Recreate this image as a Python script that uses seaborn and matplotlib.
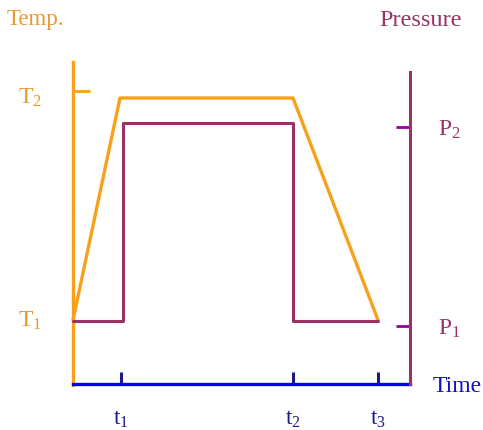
import matplotlib
matplotlib.use("Agg")
import matplotlib.pyplot as plt
import seaborn as sns
import pandas as pd

# ---- data (abstract units) ----
temp_time = [0, 47, 220, 305]
temp_value = [64, 286, 286, 64]
press_time = [0, 50, 50, 220, 220, 305]
press_value = [63, 63, 261, 261, 63, 63]
time_ticks = [48, 220, 305]
time_labels = [r"$\mathrm{t}_1$", r"$\mathrm{t}_2$", r"$\mathrm{t}_3$"]
temp_ticks = [293]
temp_labels = [r"$\mathrm{T}_1$", r"$\mathrm{T}_2$"]
temp_label_pos = [63, 286]
press_ticks = [58, 257]
press_labels = [r"$\mathrm{P}_1$", r"$\mathrm{P}_2$"]

ORANGE = "#F7A11A"
ORANGE_TXT = "#E89A2C"
PURPLE = "#993366"
PURPLE_TICK = "#990099"
BLUE = "#0000FF"
NAVY = "#1A1A8C"

sns.set_theme(style="white")
plt.rcParams["font.family"] = ["Liberation Serif", "DejaVu Serif"]
plt.rcParams["mathtext.fontset"] = "custom"
plt.rcParams["mathtext.rm"] = "Liberation Serif"
plt.rcParams["mathtext.it"] = "Liberation Serif:italic"

W, H = 483, 430
fig = plt.figure(figsize=(W / 100, H / 100), dpi=100)
ax = fig.add_axes([73 / W, (H - 384) / H, 337 / W, 322 / H])
ax2 = ax.twinx()

df_t = pd.DataFrame({"time": temp_time, "value": temp_value})
df_p = pd.DataFrame({"time": press_time, "value": press_value})

sns.lineplot(data=df_t, x="time", y="value", ax=ax, color=ORANGE, lw=2.4,
             estimator=None, sort=False, clip_on=False, zorder=3)
sns.lineplot(data=df_p, x="time", y="value", ax=ax2, color=PURPLE, lw=2.2,
             estimator=None, sort=False, clip_on=False, zorder=2)

for a in (ax, ax2):
    a.set_xlim(0, 337)
    a.set_ylim(0, 322)
    a.set_xlabel("")
    a.set_ylabel("")
    a.grid(False)
    a.patch.set_visible(False)

# spines
ax.spines["top"].set_visible(False)
ax.spines["right"].set_visible(False)
ax2.spines["top"].set_visible(False)
ax2.spines["left"].set_visible(False)
ax2.spines["bottom"].set_visible(False)
ax.spines["left"].set_color(ORANGE)
ax.spines["left"].set_linewidth(2.4)
ax.spines["left"].set_bounds(-1, 322)
ax.spines["bottom"].set_color(BLUE)
ax.spines["bottom"].set_linewidth(2.4)
ax.spines["bottom"].set_zorder(4)
ax2.spines["right"].set_color(PURPLE)
ax2.spines["right"].set_linewidth(2.2)
ax2.spines["right"].set_bounds(0, 312)

# x ticks
ax.set_xticks(time_ticks)
ax.set_xticklabels(time_labels)
ax.tick_params(axis="x", direction="in", length=9, width=2.2, color=NAVY,
               labelcolor=NAVY, labelsize=16.5, pad=18, bottom=True)

# left ticks (labels as text)
ax.set_yticks(temp_ticks)
ax.set_yticklabels([])
ax.tick_params(axis="y", direction="in", length=12, width=2, color=ORANGE,
               left=True)
for lab, y in zip(temp_labels, temp_label_pos):
    ax.text(-31, y, lab, ha="right", va="center", fontsize=17,
            color=ORANGE_TXT, clip_on=False)

# right ticks
ax2.set_yticks(press_ticks)
ax2.set_yticklabels(press_labels)
ax2.tick_params(axis="y", direction="in", length=10, width=2, color=PURPLE_TICK,
                labelcolor=PURPLE, labelsize=17, pad=20, right=True)

# axis titles
fig.text(7 / W, 1 - 20 / H, "Temp.", ha="left", va="center", fontsize=16.5,
         color=ORANGE_TXT)
fig.text(379 / W, 1 - 20 / H, "Pressure", ha="left", va="center", fontsize=17.5,
         color=PURPLE)
fig.text(433 / W, 1 - 386 / H, "Time", ha="left", va="center", fontsize=17,
         color="#1010C0")

fig.savefig("out.png", dpi=100)
